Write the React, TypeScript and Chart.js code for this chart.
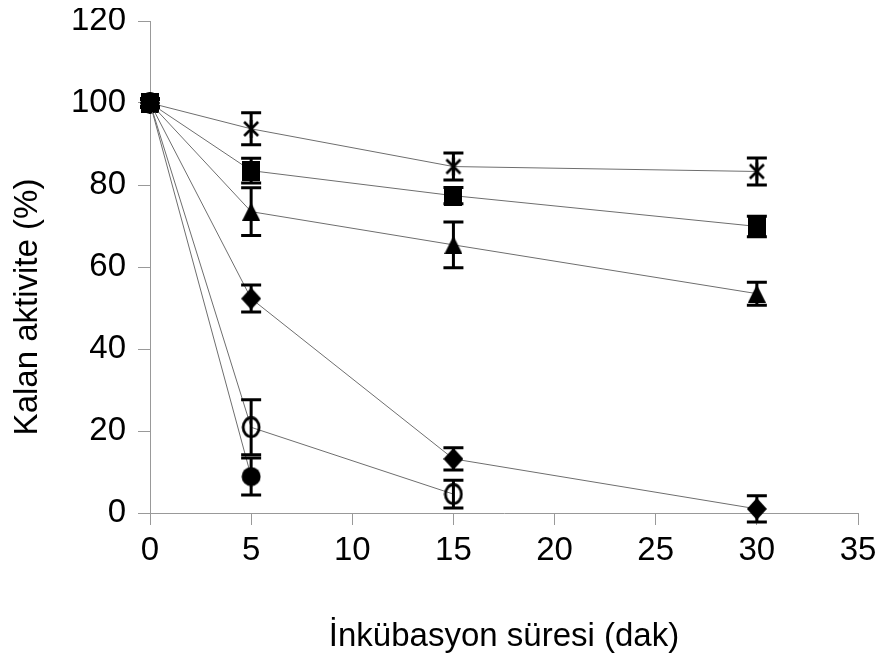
import React, { useEffect, useRef } from "react";
import { Chart, registerables } from "chart.js";
Chart.register(...registerables);

const xValues = [0, 5, 15, 30];
const starValues = [100, 93.7, 84.5, 83.3];
const starErrors = [1, 3.9, 3.3, 3.3];
const squareValues = [100, 83.5, 77.4, 69.9];
const squareErrors = [1, 3, 2, 2.5];
const triangleValues = [100, 73.5, 65.4, 53.5];
const triangleErrors = [1, 5.8, 5.6, 2.8];
const diamondValues = [100, 52.3, 13.2, 1];
const diamondErrors = [1, 3.3, 2.7, 3.2];
const openCircleValues = [100, 20.9, 4.6];
const openCircleErrors = [1, 6.7, 3.4];
const filledCircleValues = [100, 8.9];
const filledCircleErrors = [1, 4.5];

const xTitle = "İnkübasyon süresi (dak)";
const yTitle = "Kalan aktivite (%)";
const FONT = "Arial, 'Liberation Sans', sans-serif";

function makeMarker(w: number, h: number, draw: (c: CanvasRenderingContext2D) => void) {
  const cv = document.createElement("canvas");
  cv.width = w;
  cv.height = h;
  const c = cv.getContext("2d")!;
  c.fillStyle = "#000";
  c.strokeStyle = "#000";
  draw(c);
  return cv;
}

const starMarker = () =>
  makeMarker(20, 20, (c) => {
    c.lineWidth = 2.6;
    c.beginPath();
    c.moveTo(3, 3); c.lineTo(17, 17);
    c.moveTo(17, 3); c.lineTo(3, 17);
    c.moveTo(10, 1); c.lineTo(10, 19);
    c.stroke();
  });
const squareMarker = () => makeMarker(18, 20, (c) => c.fillRect(0, 0, 18, 20));
const triangleMarker = () =>
  makeMarker(18, 18, (c) => {
    c.beginPath(); c.moveTo(9, 0); c.lineTo(18, 18); c.lineTo(0, 18); c.closePath(); c.fill();
  });
const diamondMarker = () =>
  makeMarker(20, 22, (c) => {
    c.beginPath(); c.moveTo(10, 0); c.lineTo(20, 11); c.lineTo(10, 22); c.lineTo(0, 11); c.closePath(); c.fill();
  });
const filledCircleMarker = () =>
  makeMarker(20, 20, (c) => {
    c.beginPath(); c.ellipse(10, 10, 9.5, 9.5, 0, 0, Math.PI * 2); c.fill();
  });
const openCircleMarker = () =>
  makeMarker(20, 22, (c) => {
    c.lineWidth = 2.8;
    c.beginPath(); c.ellipse(10, 11, 8, 9.5, 0, 0, Math.PI * 2); c.stroke();
  });

const toPoints = (vals: number[]) => vals.map((v, i) => ({ x: xValues[i], y: v }));

const errorBarPlugin = {
  id: "errorBars",
  afterDatasetsDraw(chart: any) {
    const ctx = chart.ctx;
    const yScale = chart.scales.y;
    chart.data.datasets.forEach((ds: any, i: number) => {
      const meta = chart.getDatasetMeta(i);
      meta.data.forEach((pt: any, j: number) => {
        const v = ds.data[j].y;
        const e = ds.errors[j];
        const yTop = yScale.getPixelForValue(v + e);
        const yBot = yScale.getPixelForValue(v - e);
        const x = pt.x;
        ctx.save();
        ctx.strokeStyle = "#000";
        ctx.lineWidth = 3;
        ctx.beginPath();
        ctx.moveTo(x, yTop); ctx.lineTo(x, yBot);
        ctx.moveTo(x - 10, yTop); ctx.lineTo(x + 10, yTop);
        ctx.moveTo(x - 10, yBot); ctx.lineTo(x + 10, yBot);
        ctx.stroke();
        ctx.restore();
      });
    });
  },
};

const yTitlePlugin = {
  id: "yTitle",
  afterDraw(chart: any) {
    const ctx = chart.ctx;
    ctx.save();
    ctx.translate(20, 299);
    ctx.rotate(-Math.PI / 2);
    ctx.font = `33px ${FONT}`;
    ctx.fillStyle = "#000";
    ctx.textAlign = "center";
    ctx.textBaseline = "middle";
    ctx.fillText(yTitle, 0, 0);
    ctx.restore();
  },
};

export default function App() {
  const ref = useRef<HTMLCanvasElement>(null);
  useEffect(() => {
    if (!ref.current) return;
    const lineColor = "#6e6e6e";
    const mk = (vals: number[], errs: number[], style: HTMLCanvasElement) => ({
      data: toPoints(vals),
      errors: errs,
      showLine: true,
      borderColor: lineColor,
      borderWidth: 1,
      pointStyle: style,
      pointRadius: 10,
      pointHoverRadius: 10,
      clip: false,
      tension: 0,
    });
    const chart = new Chart(ref.current, {
      type: "scatter",
      data: {
        datasets: [
          mk(filledCircleValues, filledCircleErrors, filledCircleMarker()),
          mk(openCircleValues, openCircleErrors, openCircleMarker()),
          mk(diamondValues, diamondErrors, diamondMarker()),
          mk(triangleValues, triangleErrors, triangleMarker()),
          mk(squareValues, squareErrors, squareMarker()),
          mk(starValues, starErrors, starMarker()),
        ] as any,
      },
      options: {
        responsive: false,
        animation: false,
        layout: { padding: { top: 13, right: 20, left: 0, bottom: 0 } },
        plugins: { legend: { display: false }, tooltip: { enabled: false } },
        scales: {
          x: {
            type: "linear",
            min: 0,
            max: 35,
            ticks: { stepSize: 5, padding: 6, color: "#000", font: { family: FONT, size: 33 } },
            grid: { drawOnChartArea: false, drawTicks: true, tickLength: 12, color: "#999" },
            border: { color: "#999", width: 1, dash: [2, 1] },
            title: {
              display: true,
              text: xTitle,
              color: "#000",
              font: { family: FONT, size: 33 },
              padding: { top: 0, bottom: 3 },
            },
            afterFit: (s: any) => {
              s.height = 147;
              s.paddingLeft = 0;
              s.paddingRight = 0;
            },
          },
          y: {
            min: 0,
            max: 120,
            ticks: { stepSize: 20, padding: 12, color: "#000", font: { family: FONT, size: 33 } },
            grid: { drawOnChartArea: false, drawTicks: true, tickLength: 12, color: "#999" },
            border: { color: "#999", width: 1, dash: [2, 1] },
            afterFit: (s: any) => {
              s.width = 142;
              s.paddingTop = 0;
              s.paddingBottom = 0;
            },
          },
        },
      } as any,
      plugins: [errorBarPlugin, yTitlePlugin],
    });
    return () => chart.destroy();
  }, []);
  return <canvas ref={ref} width={870} height={652} style={{ display: "block" }} />;
}
